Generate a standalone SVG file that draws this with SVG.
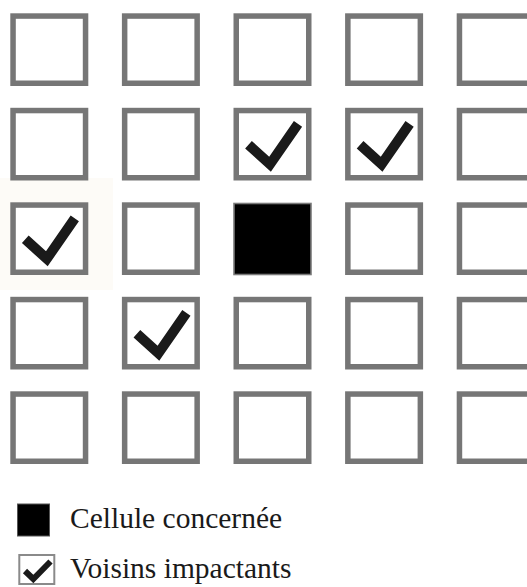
<svg xmlns="http://www.w3.org/2000/svg" width="527" height="587" viewBox="0 0 527 587">
<style>
.box{fill:#fff;stroke:#767676;stroke-width:5.5}
.chk{fill:none;stroke:#1a1a1a;stroke-width:10;stroke-linejoin:miter;stroke-linecap:butt}
.lbl{font-size:29.5px;fill:#1a1a1a}
</style>
<defs>
<polyline id="tick" class="chk" points="15,37 36.5,56.5 64.5,16"/>
</defs>
<rect x="0" y="178" width="113" height="112" fill="#fdfbf7"/>
<g id="grid">
<g id="r0">
<rect class="box" x="13.05" y="16.05" width="72.5" height="67.2"/>
<rect class="box" x="124.65" y="16.05" width="72.5" height="67.2"/>
<rect class="box" x="236.25" y="16.05" width="72.5" height="67.2"/>
<rect class="box" x="347.85" y="16.05" width="72.5" height="67.2"/>
<rect class="box" x="459.45" y="16.05" width="72.5" height="67.2"/>
</g>
<g id="r1">
<rect class="box" x="13.05" y="110.55" width="72.5" height="67.2"/>
<rect class="box" x="124.65" y="110.55" width="72.5" height="67.2"/>
<g id="c1-2"><rect class="box" x="236.25" y="110.55" width="72.5" height="67.2"/><use href="#tick" x="233.5" y="107.8"/></g>
<g id="c1-3"><rect class="box" x="347.85" y="110.55" width="72.5" height="67.2"/><use href="#tick" x="345.1" y="107.8"/></g>
<rect class="box" x="459.45" y="110.55" width="72.5" height="67.2"/>
</g>
<g id="r2">
<g id="c2-0"><rect class="box" x="13.05" y="205.05" width="72.5" height="67.2"/><use href="#tick" x="10.3" y="202.3"/></g>
<rect class="box" x="124.65" y="205.05" width="72.5" height="67.2"/>
<rect id="c2-2" x="234" y="203.5" width="77" height="71" fill="#000" stroke="#7a7a7a" stroke-width="1.6"/>
<rect class="box" x="347.85" y="205.05" width="72.5" height="67.2"/>
<rect class="box" x="459.45" y="205.05" width="72.5" height="67.2"/>
</g>
<g id="r3">
<rect class="box" x="13.05" y="299.55" width="72.5" height="67.2"/>
<g id="c3-1"><rect class="box" x="124.65" y="299.55" width="72.5" height="67.2"/><use href="#tick" x="121.9" y="296.8"/></g>
<rect class="box" x="236.25" y="299.55" width="72.5" height="67.2"/>
<rect class="box" x="347.85" y="299.55" width="72.5" height="67.2"/>
<rect class="box" x="459.45" y="299.55" width="72.5" height="67.2"/>
</g>
<g id="r4">
<rect class="box" x="13.05" y="394.05" width="72.5" height="67.2"/>
<rect class="box" x="124.65" y="394.05" width="72.5" height="67.2"/>
<rect class="box" x="236.25" y="394.05" width="72.5" height="67.2"/>
<rect class="box" x="347.85" y="394.05" width="72.5" height="67.2"/>
<rect class="box" x="459.45" y="394.05" width="72.5" height="67.2"/>
</g>
</g>
<g id="legend" font-family="Liberation Serif, Times New Roman, DejaVu Serif, serif">
<g id="leg-cell">
<rect x="17.5" y="504" width="32" height="32" fill="#000" stroke="#555" stroke-width="1"/>
<text class="lbl" x="70" y="527.5">Cellule concernée</text>
</g>
<g id="leg-neigh">
<rect x="19.3" y="555" width="35" height="29" fill="#fff" stroke="#8a8a8a" stroke-width="2"/>
<polyline class="chk" style="stroke-width:6" points="25,571 33.3,579 50.5,561.5"/>
<text class="lbl" x="70" y="577.5">Voisins impactants</text>
</g>
</g>
</svg>
